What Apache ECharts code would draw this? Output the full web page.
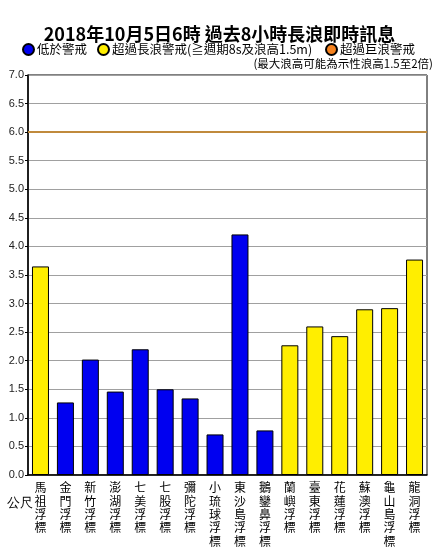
<!DOCTYPE html>
<html>
<head>
<meta charset="utf-8">
<script src="https://cdn.jsdelivr.net/npm/echarts@6/dist/echarts.min.js"></script>
<style>
html,body{margin:0;padding:0;background:#fff;}
#chart{width:439px;height:552px;}
</style>
</head>
<body>
<div id="chart"></div>
<script>
var titleText = '2018年10月5日6時 過去8小時長浪即時訊息';
var noteText = '(最大浪高可能為示性浪高1.5至2倍)';
var unitText = '公尺';
var categories = ['馬祖浮標','金門浮標','新竹浮標','澎湖浮標','七美浮標','七股浮標','彌陀浮標','小琉球浮標','東沙島浮標','鵝鑾鼻浮標','蘭嶼浮標','臺東浮標','花蓮浮標','蘇澳浮標','龜山島浮標','龍洞浮標'];
var waveHeights = [3.65, 1.27, 2.02, 1.46, 2.20, 1.50, 1.34, 0.71, 4.21, 0.78, 2.27, 2.60, 2.43, 2.90, 2.92, 3.77];
// 0 = below warning, 1 = long-wave warning, 2 = huge-wave warning
var levels = [1,0,0,0,0,0,0,0,0,0,1,1,1,1,1,1];
var levelNames = ['低於警戒','超過長浪警戒(≧週期8s及浪高1.5m)','超過巨浪警戒'];
var levelColors = ['#0000f0','#ffee00','#f5821f'];
var hugeWaveThreshold = 6.0;
var yTicks = {min:0, max:7, interval:0.5};

var cjk = '"Noto Sans CJK TC","Noto Sans CJK SC",sans-serif';
var latin = '"Liberation Sans",Arial,sans-serif';

var series = levelNames.map(function(name, li){
  var s = {
    name: name,
    type: 'bar',
    stack: 'wave',
    barWidth: 17,
    itemStyle: {color: levelColors[li], borderColor: '#000', borderWidth: 1},
    data: waveHeights.map(function(v, i){ return levels[i] === li ? v : '-'; })
  };
  if (li === 0) {
    s.markLine = {
      silent: true,
      symbol: 'none',
      label: {show: false},
      lineStyle: {color: '#c08a3c', width: 2, type: 'solid'},
      data: [{yAxis: hugeWaveThreshold}]
    };
  }
  return s;
});

var legendLefts = [22, 97, 325];
var legends = levelNames.map(function(name, i){
  return {
    data: [name],
    left: legendLefts[i],
    top: 43,
    icon: 'circle',
    itemWidth: 11,
    itemHeight: 11,
    itemGap: 4,
    padding: 0,
    selectedMode: false,
    textStyle: {fontSize: 12.5, color: '#000', fontFamily: cjk, padding: [0,0,0,-2]}
  };
});

var chart = echarts.init(document.getElementById('chart'), null, {renderer: 'canvas'});
chart.setOption({
  animation: false,
  backgroundColor: '#fff',
  title: [
    {text: titleText, left: 'center', top: 20,
     textStyle: {fontSize: 18, fontWeight: 'bold', color: '#000', fontFamily: cjk}},
    {text: noteText, right: 6, top: 58, padding: 0,
     textStyle: {fontSize: 11.5, fontWeight: 'normal', color: '#000', fontFamily: cjk}}
  ],
  legend: legends,
  grid: {left: 28, right: 12, top: 75, bottom: 77, show: true, borderColor: '#000', borderWidth: 1, backgroundColor: 'transparent'},
  xAxis: {
    type: 'category',
    data: categories,
    axisLine: {lineStyle: {color: '#000', width: 1.5}},
    axisTick: {alignWithLabel: true, length: 5, lineStyle: {color: '#000'}},
    axisLabel: {
      interval: 0, margin: 6, color: '#000', fontSize: 12, lineHeight: 13.4, fontFamily: cjk,
      formatter: function(v){ return v.split('').join('\n'); }
    }
  },
  yAxis: {
    type: 'value',
    min: yTicks.min, max: yTicks.max, interval: yTicks.interval,
    axisLine: {show: true, lineStyle: {color: '#000', width: 1.5}},
    axisTick: {show: true, length: 3, lineStyle: {color: '#000'}},
    axisLabel: {color: '#222', fontSize: 11, margin: 4, fontFamily: latin,
      formatter: function(v){ return v.toFixed(1); }},
    splitLine: {lineStyle: {color: '#a0a0a0', width: 1}}
  },
  graphic: [
    {type: 'text', left: 7, top: 497, style: {text: unitText, fontSize: 13, fill: '#000', font: '13px ' + cjk}}
  ],
  series: series
});
</script>
</body>
</html>
